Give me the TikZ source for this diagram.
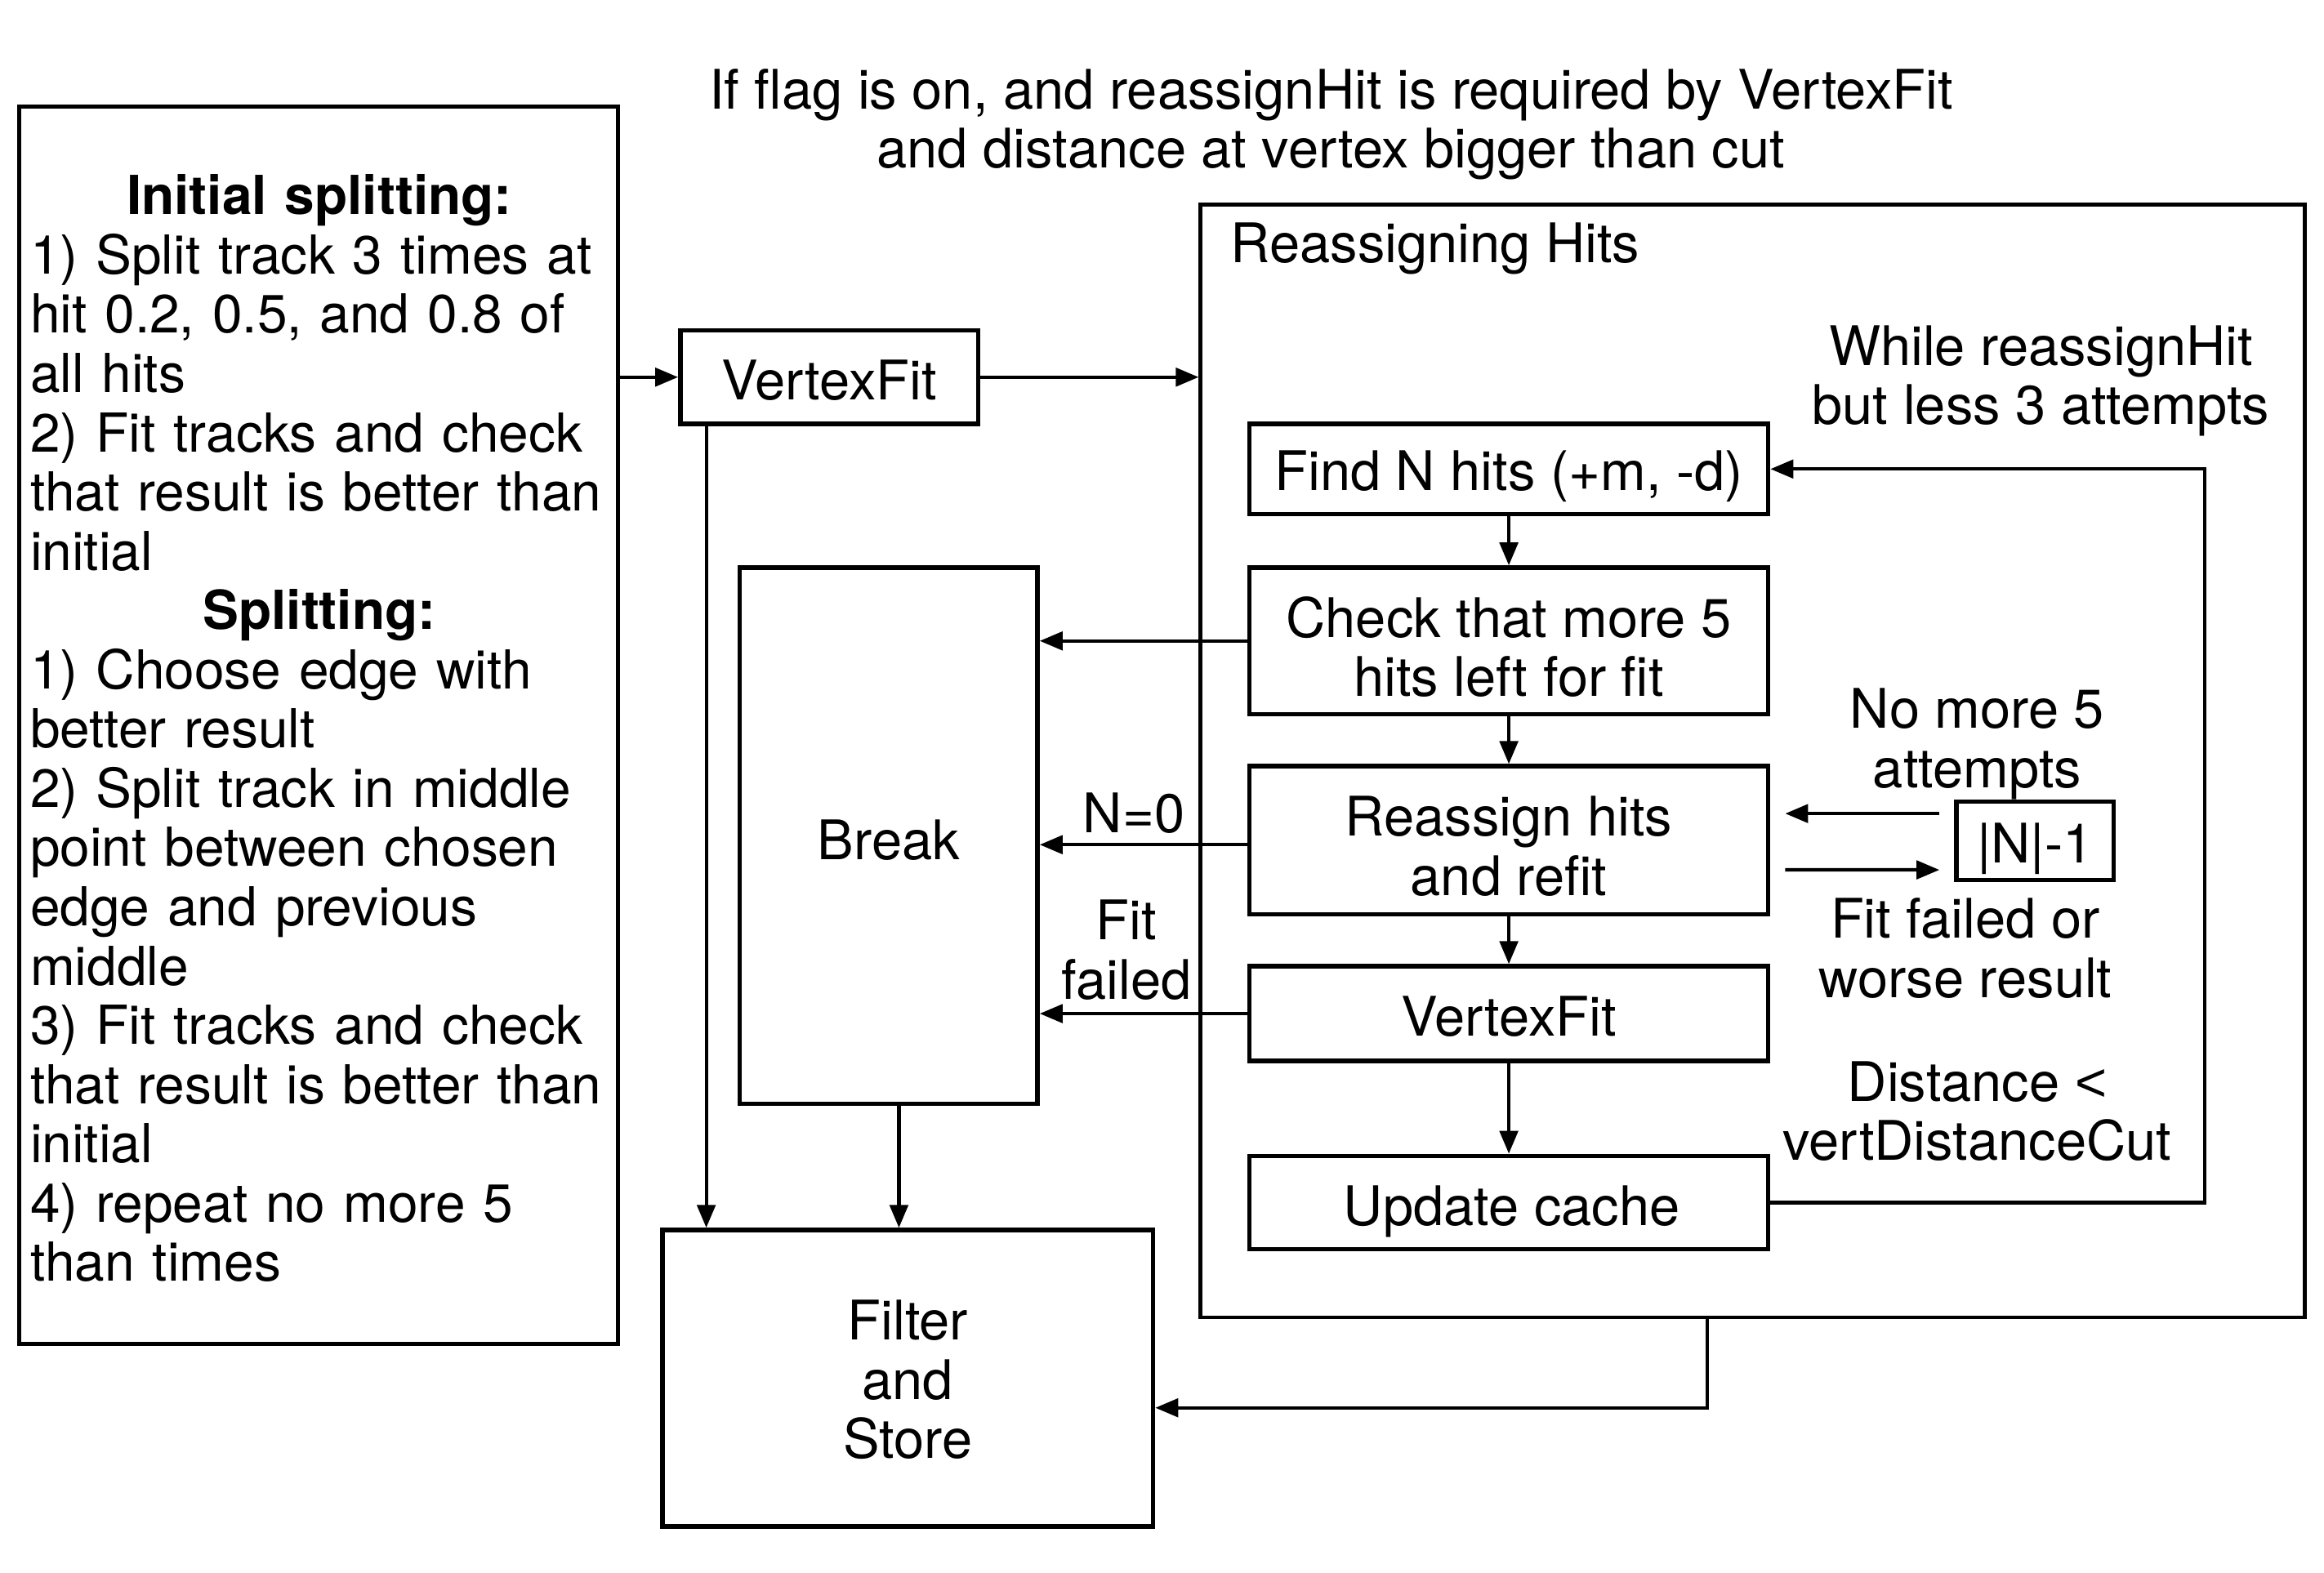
\documentclass[tikz,border=0pt]{standalone}
\usepackage{fontspec}
\setmainfont{TeX Gyre Heros}
\newfontfamily\libsans{Liberation Sans}
\usetikzlibrary{arrows.meta,calc}
\newcommand{\fsz}{\fontsize{16.7}{18.14}\selectfont}
\newcommand{\fszl}{\fontsize{16.45}{18.14}\selectfont}
\newcommand{\ctrline}[1]{\makebox[390\dimexpr 0.4536pt\relax]{\bfseries #1}}
\begin{document}
\begin{tikzpicture}[x=0.4536pt,y=-0.4536pt,
  every node/.style={font=\fsz},
  box/.style={draw,line width=1.35pt,inner sep=0pt,align=center},
  lbl/.style={inner sep=0pt,align=center},
  arr/.style={line width=1.05pt,-{Triangle[length=7pt,width=5.6pt]}}]
\useasboundingbox (0,0) rectangle (1568,1061);

% left box
\node[box,minimum width=404*0.4536pt,minimum height=835*0.4536pt] (init) at (215,489.5) {};
\node[lbl,anchor=west,align=left,text width=420*0.4536pt,font=\fszl] (initt) at (20,491.5) {%
\ctrline{Initial splitting:}\\
1) Split track 3 times at\\
hit 0.2, 0.5, and 0.8 of\\
all hits\\
2) Fit tracks and check\\
that result is better than\\
initial\\
\ctrline{Splitting:}\\
1) Choose edge with\\
better result\\
2) Split track in middle\\
point between chosen\\
edge and previous\\
middle\\
3) Fit tracks and check\\
that result is better than\\
initial\\
4) repeat no more 5\\
than times};

% title
\node[lbl] (title) at (898,84) {If flag is on, and reassignHit is required by VertexFit\\and distance at vertex bigger than cut};

\node[box,minimum width=201*0.4536pt,minimum height=63*0.4536pt] (vf1) at (559.5,254.5) {};
\node[lbl] (vf1t) at (559.5,256.5) {VertexFit};

% reassigning hits container
\node[draw,line width=1.15pt,minimum width=745*0.4536pt,minimum height=751*0.4536pt,inner sep=0pt] (rh) at (1182.5,513.5) {};
\node[lbl,anchor=west] (rhl) at (830,168) {Reassigning Hits};
\node[lbl] (while) at (1377,257) {While reassignHit\\but less 3 attempts};

\node[box,minimum width=350*0.4536pt,minimum height=61*0.4536pt] (find) at (1018,316.5) {};
\node[lbl] (findt) at (1018,321.5) {Find N hits (+m, -d)};
\node[box,minimum width=350*0.4536pt,minimum height=99*0.4536pt] (check) at (1018,432.5) {};
\node[lbl] (checkt) at (1018,436.5) {Check that more 5\\hits left for fit};
\node[box,minimum width=350*0.4536pt,minimum height=100*0.4536pt] (reas) at (1018,567) {};
\node[lbl] (reast) at (1018,571) {Reassign hits\\and refit};
\node[box,minimum width=350*0.4536pt,minimum height=64*0.4536pt] (vf2) at (1018,684) {};
\node[lbl] (vf2t) at (1018,686) {VertexFit};
\node[box,minimum width=350*0.4536pt,minimum height=63*0.4536pt] (upd) at (1018,811.5) {};
\node[lbl] (updt) at (1020,817.5) {Update cache};

\node[box,minimum width=106*0.4536pt,minimum height=53*0.4536pt] (nm1) at (1373,567.5) {};
\node[lbl] (nm1t) at (1373,572.5) {|N|-1};

\node[lbl] (nomore) at (1334,502) {No more 5\\attempts};
\node[lbl] (fitor) at (1326,640) {Fit failed or\\worse result};
\node[lbl] (dist) at (1334,750) {Distance {\libsans <}\\vertDistanceCut};

\node[box,minimum width=201*0.4536pt,minimum height=362*0.4536pt] (brk) at (599.5,564) {};
\node[lbl] (brkt) at (599.5,567) {Break};
\node[box,minimum width=331*0.4536pt,minimum height=200*0.4536pt] (fs) at (612.5,930) {};
\node[lbl] (fst) at (612.5,931) {Filter\\and\\Store};

\node[lbl] (n0) at (765,549) {N=0};
\node[lbl] (ff) at (760,641) {Fit\\failed};

% connectors
\draw[arr] (init.east |- vf1.west) -- (vf1.west);
\draw[arr] (vf1.east) -- (vf1.east -| rh.west);
\coordinate (a) at ($(vf1.south west)+(19,0)$);
\draw[arr] (a) -- (a |- fs.north);
\coordinate (b) at ($(brk.south)+(7,0)$);
\draw[arr] (b) -- (b |- fs.north);

\draw[arr] (find) -- (check);
\draw[arr] (check) -- (reas);
\draw[arr] (reas) -- (vf2);
\draw[arr] (vf2) -- (upd);

\draw[arr] (check.west) -- (check.west -| brk.east);
\coordinate (r0) at ($(reas.west)+(0,3)$);
\draw[arr] (r0) -- (r0 -| brk.east);
\draw[arr] (vf2.west) -- (vf2.west -| brk.east);

\draw[arr] ($(nm1.west)+(-10,-18.5)$) -- ($(reas.east)+(10,-18)$);
\draw[arr] ($(reas.east)+(10,20)$) -- ($(nm1.west)+(-10,19.5)$);

\draw[arr] (upd.east) -- ++(293,0) |- (find.east);

\coordinate (c) at ($(rh.south west)+(343,0)$);
\draw[arr] (c) |- ($(fs.east)+(0,20)$);
\end{tikzpicture}
\end{document}
